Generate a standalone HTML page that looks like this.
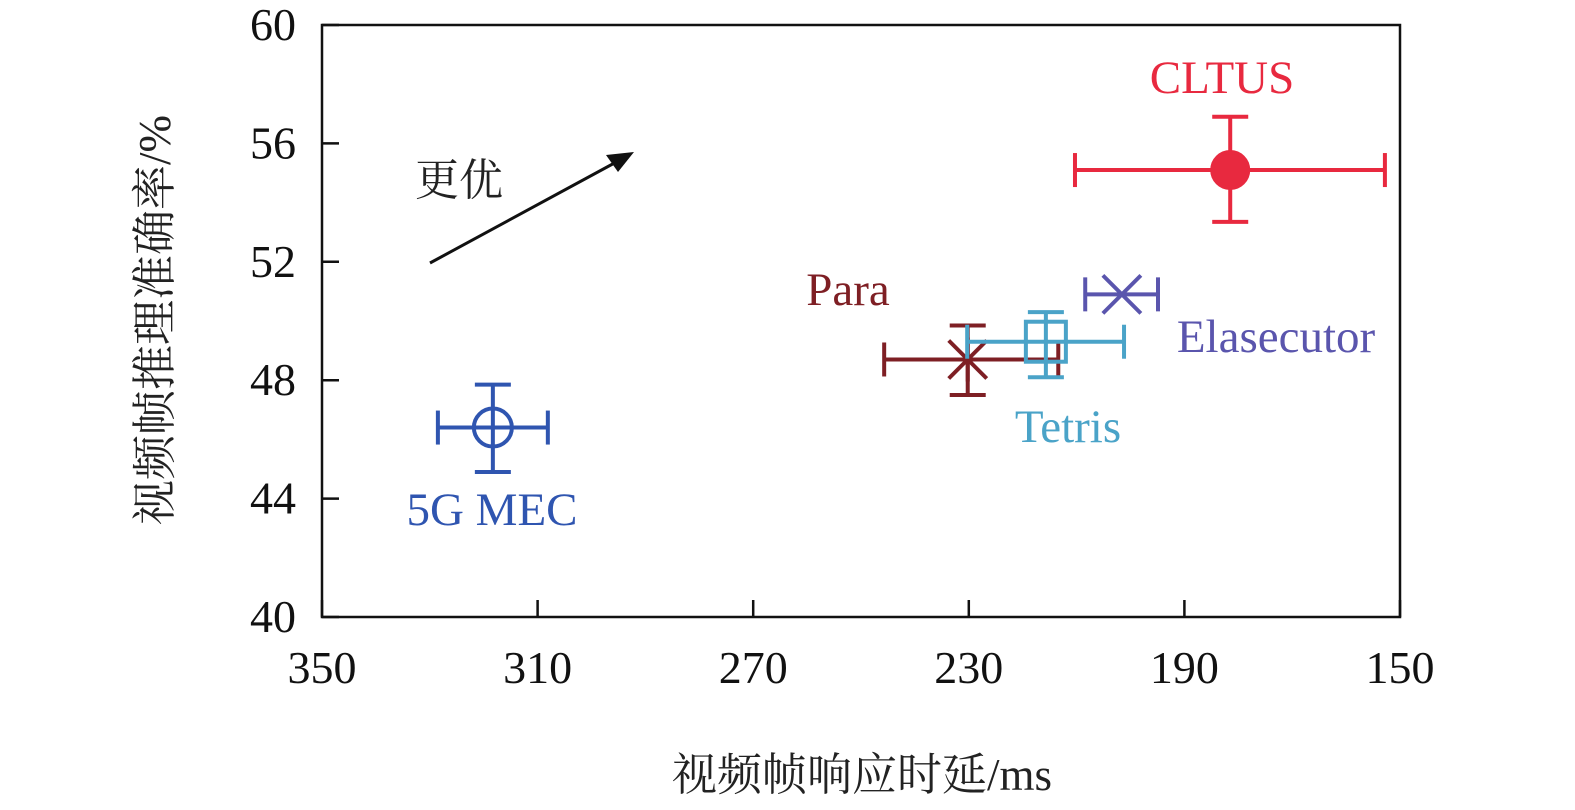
<!DOCTYPE html>
<html><head><meta charset="utf-8"><style>
body{margin:0;background:#fff;}
svg{display:block;font-family:"Liberation Serif","Noto Serif CJK SC",serif;}
</style></head><body>
<svg id="chart" width="1575" height="810" viewBox="0 0 1575 810">
<rect x="322" y="25" width="1078" height="592" fill="none" stroke="#111" stroke-width="2.5"/>
<g id="axes"></g><g id="marks"></g>
<text x="862" y="790" font-size="45" text-anchor="middle" fill="#222">视频帧响应时延/ms</text>
<text transform="translate(170,320) rotate(-90)" font-size="45" text-anchor="middle" fill="#222">视频帧推理准确率/%</text>
<text x="415" y="195" font-size="44" fill="#222">更优</text>
<line x1="430" y1="263" x2="620" y2="160" stroke="#111" stroke-width="3"/>
<polygon points="634,152 606,155 618,172" fill="#111"/>
</svg>
<script>
const xTicks=[350,310,270,230,190,150];
const yTicks=[40,44,48,52,56,60];
const names=["CLTUS","5G MEC","Para","Tetris","Elasecutor"];
const latency=[181.5,318.3,230.2,215.7,201.6];
const latLo=[210.3,328.5,245.7,230.3,208.4];
const latHi=[152.8,308.1,213.4,201.2,194.9];
const accuracy=[55.1,46.4,48.7,49.3,50.9];
const accLo=[53.35,44.9,47.5,48.1,50.9];
const accHi=[56.9,47.85,49.85,50.3,50.9];
const colors=["#e8293f","#2f55b0","#7e1f24","#4aa3c8","#5a55ad"];
const markers=["dot","circle","star","square","x"];
const labelPos=[[1222,93],[492,525],[848,305],[1068,442],[1276,352]];
const X=v=>322+(350-v)/200*1078, Y=v=>617-(v-40)/20*592;
const NS="http://www.w3.org/2000/svg";
function mk(p,t,a){const e=document.createElementNS(NS,t);for(const k in a)e.setAttribute(k,a[k]);p.appendChild(e);return e;}
const ax=document.getElementById('axes'), mg=document.getElementById('marks');
xTicks.forEach(v=>{
 const l=mk(ax,'line',{x1:X(v),x2:X(v),y1:617,y2:600,stroke:'#111','stroke-width':2.5});
 
 
 const t=mk(ax,'text',{x:X(v),y:683,'font-size':46,'text-anchor':'middle',fill:'#111'});t.textContent=v;
 
 
});
yTicks.forEach(v=>{
 const l=mk(ax,'line',{x1:322,x2:339,y1:Y(v),y2:Y(v),stroke:'#111','stroke-width':2.5});
 
 
 const t=mk(ax,'text',{x:296,y:Y(v)+15,'font-size':46,'text-anchor':'end',fill:'#111'});t.textContent=v;
 
 
});
names.forEach((n,i)=>{
 const c=colors[i],g=mk(mg,'g',{stroke:c,'stroke-width':4,fill:'none'});
 
 
 const cx=X(latency[i]),cy=Y(accuracy[i]),x1=X(latLo[i]),x2=X(latHi[i]),y1=Y(accLo[i]),y2=Y(accHi[i]);
 mk(g,'line',{x1:x1,x2:x2,y1:cy,y2:cy});
 mk(g,'line',{x1:x1,x2:x1,y1:cy-17,y2:cy+17});
 mk(g,'line',{x1:x2,x2:x2,y1:cy-17,y2:cy+17});
 if(Math.abs(y1-y2)>2){
  mk(g,'line',{x1:cx,x2:cx,y1:y1,y2:y2});
  mk(g,'line',{x1:cx-18,x2:cx+18,y1:y1,y2:y1});
  mk(g,'line',{x1:cx-18,x2:cx+18,y1:y2,y2:y2});
 }
 const m=markers[i];
 if(m==='dot')mk(g,'circle',{cx:cx,cy:cy,r:18,fill:c});
 if(m==='circle')mk(g,'circle',{cx:cx,cy:cy,r:19});
 if(m==='square')mk(g,'rect',{x:cx-20,y:cy-20,width:40,height:40});
 if(m==='x'||m==='star'){mk(g,'line',{x1:cx-19,y1:cy-19,x2:cx+19,y2:cy+19});mk(g,'line',{x1:cx-19,y1:cy+19,x2:cx+19,y2:cy-19});}
 if(m==='star'){mk(g,'line',{x1:cx,y1:cy-22,x2:cx,y2:cy+22});mk(g,'line',{x1:cx-22,y1:cy,x2:cx+22,y2:cy});}
 const t=mk(mg,'text',{x:labelPos[i][0],y:labelPos[i][1],'font-size':47,'text-anchor':'middle',fill:c});t.textContent=n;
 
 
});
</script>
</body></html>
